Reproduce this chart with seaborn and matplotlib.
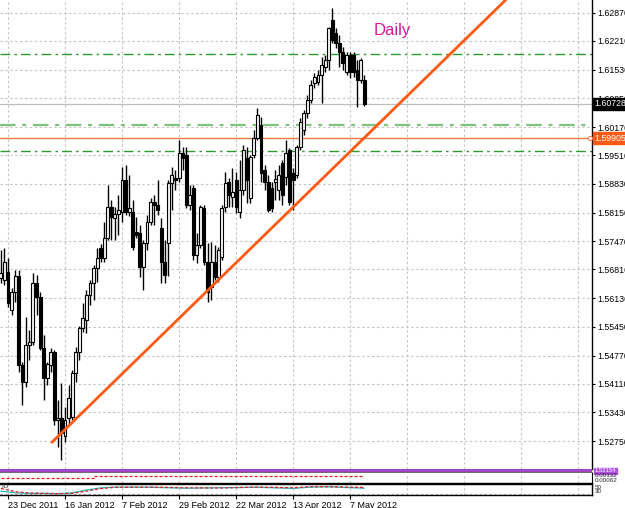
import matplotlib
matplotlib.use("Agg")
import matplotlib.pyplot as plt
import numpy as np
import pandas as pd
import seaborn as sns

sns.set_style("white")
plt.rcParams['font.family'] = ['Liberation Sans', 'DejaVu Sans']

# ---------------- data ----------------
bar_index = list(range(-2, 101))   # 23 Dec 2011 = 0, 11 May 2012 = 100
opens = [1.5661, 1.5656, 1.5675, 1.5585, 1.5627, 1.5665, 1.5455, 1.5415, 1.5502, 1.5509,
         1.5649, 1.5616, 1.5495, 1.5424, 1.5455, 1.5486, 1.5325, 1.5330, 1.5287, 1.5330,
         1.5332, 1.5436, 1.5486, 1.5542, 1.5561, 1.5620, 1.5649, 1.5684, 1.5731, 1.5708,
         1.5755, 1.5828, 1.5802, 1.5812, 1.5817, 1.5892, 1.5817, 1.5817, 1.5769, 1.5767,
         1.5687, 1.5743, 1.5793, 1.5840, 1.5833, 1.5779, 1.5698, 1.5743, 1.5885, 1.5897,
         1.5897, 1.5956, 1.5951, 1.5833, 1.5873, 1.5715, 1.5739, 1.5826, 1.5698, 1.5639,
         1.5698, 1.5663, 1.5710, 1.5828, 1.5887, 1.5852, 1.5892, 1.5817, 1.5869, 1.5944,
         1.5850, 1.5951, 1.5992, 1.6022, 1.5916, 1.5887, 1.5873, 1.5887, 1.5869, 1.5932,
         1.5899, 1.5963, 1.5909, 1.5904, 1.5970, 1.6010, 1.6051, 1.6081, 1.6122, 1.6124,
         1.6140, 1.6159, 1.6176, 1.6270, 1.6240, 1.6216, 1.6195, 1.6147, 1.6188, 1.6188,
         1.6152, 1.6129, 1.6129]
highs = [1.5727, 1.5731, 1.5708, 1.5637, 1.5679, 1.5679, 1.5462, 1.5568, 1.5538, 1.5672,
         1.5668, 1.5627, 1.5526, 1.5462, 1.5495, 1.5490, 1.5372, 1.5412, 1.5356, 1.5408,
         1.5443, 1.5497, 1.5547, 1.5601, 1.5632, 1.5656, 1.5691, 1.5731, 1.5741, 1.5793,
         1.5880, 1.5845, 1.5828, 1.5857, 1.5923, 1.5928, 1.5904, 1.5845, 1.5805, 1.5786,
         1.5750, 1.5809, 1.5850, 1.5857, 1.5892, 1.5802, 1.5750, 1.5892, 1.5923, 1.5916,
         1.5987, 1.5970, 1.5970, 1.5880, 1.5880, 1.5767, 1.5833, 1.5833, 1.5743, 1.5746,
         1.5739, 1.5734, 1.5833, 1.5911, 1.5897, 1.5921, 1.5911, 1.5940, 1.5975, 1.5970,
         1.5951, 1.6010, 1.6062, 1.6041, 1.5928, 1.5904, 1.5887, 1.5916, 1.5928, 1.5940,
         1.5987, 1.5968, 1.5921, 1.5975, 1.6039, 1.6058, 1.6093, 1.6129, 1.6145, 1.6152,
         1.6183, 1.6188, 1.6254, 1.6299, 1.6252, 1.6235, 1.6207, 1.6195, 1.6195, 1.6195,
         1.6176, 1.6181, 1.6140]
lows = [1.5649, 1.5644, 1.5592, 1.5573, 1.5604, 1.5438, 1.5360, 1.5403, 1.5467, 1.5502,
        1.5573, 1.5490, 1.5372, 1.5408, 1.5438, 1.5313, 1.5261, 1.5230, 1.5273, 1.5313,
        1.5325, 1.5415, 1.5467, 1.5533, 1.5530, 1.5597, 1.5609, 1.5651, 1.5698, 1.5698,
        1.5750, 1.5750, 1.5750, 1.5762, 1.5793, 1.5809, 1.5807, 1.5727, 1.5755, 1.5663,
        1.5632, 1.5727, 1.5786, 1.5786, 1.5809, 1.5649, 1.5649, 1.5665, 1.5821, 1.5869,
        1.5887, 1.5916, 1.5826, 1.5821, 1.5703, 1.5696, 1.5731, 1.5691, 1.5604, 1.5609,
        1.5656, 1.5651, 1.5703, 1.5817, 1.5828, 1.5828, 1.5814, 1.5802, 1.5857, 1.5838,
        1.5838, 1.5944, 1.5987, 1.5887, 1.5869, 1.5817, 1.5817, 1.5845, 1.5845, 1.5833,
        1.5880, 1.5833, 1.5821, 1.5897, 1.5963, 1.5999, 1.6039, 1.6074, 1.6110, 1.6117,
        1.6074, 1.6147, 1.6152, 1.6216, 1.6204, 1.6159, 1.6152, 1.6140, 1.6133, 1.6136,
        1.6065, 1.6122, 1.6067]
closes = [1.5672, 1.5698, 1.5601, 1.5627, 1.5665, 1.5455, 1.5415, 1.5502, 1.5509, 1.5649,
          1.5616, 1.5495, 1.5424, 1.5457, 1.5486, 1.5325, 1.5330, 1.5294, 1.5325, 1.5377,
          1.5436, 1.5486, 1.5542, 1.5566, 1.5620, 1.5649, 1.5684, 1.5708, 1.5708, 1.5755,
          1.5828, 1.5805, 1.5812, 1.5821, 1.5892, 1.5817, 1.5826, 1.5734, 1.5762, 1.5687,
          1.5743, 1.5793, 1.5840, 1.5833, 1.5821, 1.5698, 1.5668, 1.5885, 1.5904, 1.5892,
          1.5956, 1.5944, 1.5833, 1.5857, 1.5715, 1.5739, 1.5828, 1.5698, 1.5627, 1.5698,
          1.5663, 1.5727, 1.5826, 1.5885, 1.5857, 1.5864, 1.5828, 1.5869, 1.5963, 1.5892,
          1.5947, 1.5992, 1.6046, 1.5909, 1.5887, 1.5821, 1.5826, 1.5895, 1.5904, 1.5857,
          1.5956, 1.5840, 1.5892, 1.5970, 1.6029, 1.6051, 1.6081, 1.6117, 1.6136, 1.6140,
          1.6164, 1.6176, 1.6252, 1.6223, 1.6216, 1.6195, 1.6169, 1.6188, 1.6147, 1.6147,
          1.6129, 1.6176, 1.60728]

price_ticks = [1.62870, 1.62210, 1.61530, 1.60850, 1.60170, 1.59510, 1.58830, 1.58150,
               1.57470, 1.56810, 1.56130, 1.55450, 1.54770, 1.54110, 1.53430, 1.52750]
price_labels = ["%.5f" % p for p in price_ticks]
date_ticks = [0, 16, 32, 48, 64, 80, 96]
date_labels = ["23 Dec 2011", "16 Jan 2012", "7 Feb 2012", "29 Feb 2012",
               "22 Mar 2012", "13 Apr 2012", "7 May 2012"]
grid_x = [0, 16, 32, 48, 64, 80, 96, 112, 128, 144, 160]

level_green = [1.6190, 1.5961]
level_light_green = 1.6022
level_orange = 1.59905
last_price = 1.60728
trend_x = [12.3, 139.7]
trend_p = [1.5272, 1.6318]

# indicator windows
ind_b_x = [-2, 20, 24, 100]
ind_b_red = [0.55, 0.55, 0.68, 0.70]
ind_c_x = [-2, 2, 6, 10, 14, 18, 22, 26, 30, 40, 50, 60, 70, 80, 85, 90, 95, 100]
ind_c_cyan = [35, 20, 15, 15, 12, 20, 45, 65, 72, 70, 62, 66, 70, 60, 72, 74, 68, 62]
ind_c_red = [60, 30, 18, 15, 12, 15, 35, 58, 70, 72, 65, 64, 72, 66, 75, 76, 72, 68]

# ---------------- figure ----------------
W, H = 625, 508
fig = plt.figure(figsize=(6.25, 5.08), dpi=100)
fig.patch.set_facecolor("white")

def fx(px):
    return px / W

def fy(px):
    return 1 - px / H

right = fx(592)
ax = fig.add_axes([0, fy(469), right, 469 / H])
ax_a = fig.add_axes([0, fy(473), right, 4 / H])
ax_b = fig.add_axes([0, fy(483), right, 10 / H])
ax_c = fig.add_axes([0, fy(495), right, 11 / H])

xlim = (-2.25, 163.9)
grid_kw = dict(color="#c4c4c4", lw=0.8, dashes=(2.2, 2.2), zorder=0)

# main chart
ax.set_xlim(*xlim)
ax.set_ylim(1.5209, 1.63177)
for p in price_ticks:
    ax.axhline(p, **grid_kw)
for g in grid_x:
    ax.axvline(g, **grid_kw)

df = pd.DataFrame(dict(i=bar_index, o=opens, h=highs, l=lows, c=closes))
bull = df["c"] >= df["o"]
ax.vlines(df["i"], df["l"], df["h"], color="black", lw=1.0, zorder=3)
ax.bar(df["i"][bull], (df["c"] - df["o"])[bull], bottom=df["o"][bull], width=0.82,
       color="#f4f4f4", edgecolor="black", lw=0.8, zorder=4)
ax.bar(df["i"][~bull], (df["c"] - df["o"])[~bull], bottom=df["o"][~bull], width=0.82,
       color="black", edgecolor="black", lw=0.8, zorder=4)

dash_dot = (7, 3, 1.8, 3)
for lv in level_green:
    ax.axhline(lv, color="#2e9a2e", lw=1.0, dashes=dash_dot, zorder=2)
ax.axhline(level_light_green, color="#7cc47c", lw=1.6, dashes=dash_dot, zorder=2)
ax.axhline(level_orange, color="#f47a4c", lw=1.0, zorder=2)
ax.plot([xlim[1] - 0.7], [level_orange], marker="o", ms=3, mfc="white",
        mec="#f47a4c", mew=0.8, zorder=5, clip_on=False)
ax.axhline(last_price, color="#bdbdbd", lw=0.9, zorder=2)

sns.lineplot(x=trend_x, y=trend_p, ax=ax, color="#ff5a14", lw=2.0, zorder=5)

ax.text(fx(392) / right, 1 - 30 / 469, "Daily", transform=ax.transAxes,
        color="#d4189c", fontsize=12, ha="center", va="center")

ax.yaxis.tick_right()
ax.set_yticks(price_ticks)
ax.set_yticklabels(price_labels)
ax.tick_params(axis="y", which="both", right=True, length=2.5, width=0.8,
               direction="out", labelsize=6.3, pad=1.5, colors="black")
ax.set_xticks([])
for s in ["left", "top", "bottom"]:
    ax.spines[s].set_visible(False)
ax.spines["right"].set_color("black")
ax.spines["right"].set_linewidth(1.0)

box_kw = dict(xycoords=("axes fraction", "data"), fontsize=6.3, ha="left", va="center",
              annotation_clip=False, zorder=10)
ax.annotate("%.5f" % last_price, xy=(1.0, last_price), xytext=(1.5, 0),
            textcoords="offset points", color="white",
            bbox=dict(boxstyle="square,pad=0.18", fc="black", ec="black"), **box_kw)
ax.annotate("%.5f" % level_orange, xy=(1.0, level_orange), xytext=(1.5, 0),
            textcoords="offset points", color="white",
            bbox=dict(boxstyle="square,pad=0.18", fc="#ff5a14", ec="#ff5a14"), **box_kw)

# panel A: purple band
ax_a.set_xlim(*xlim)
ax_a.set_facecolor("#a244c4")
ax_a.set_xticks([]); ax_a.set_yticks([])
for s in ["left", "top", "right"]:
    ax_a.spines[s].set_visible(False)
ax_a.spines["bottom"].set_color("#6e6e6e")
ax_a.spines["bottom"].set_linewidth(1.3)
ax_a.text(1.005, 0.5, "1.52154", transform=ax_a.transAxes, fontsize=4.2, color="white",
          va="center", ha="left",
          bbox=dict(boxstyle="square,pad=0.1", fc="#b050e0", ec="#b050e0"))

# panel B: red dashed indicator
ax_b.set_xlim(*xlim)
ax_b.set_ylim(0, 1)
for g in grid_x:
    ax_b.axvline(g, **grid_kw)
sns.lineplot(x=ind_b_x, y=ind_b_red, ax=ax_b, color="#e02020", lw=0.9,
             drawstyle="steps-post")
ax_b.lines[-1].set_dashes((2.5, 1.5))
ax_b.set_xticks([]); ax_b.set_yticks([])
for s in ["left", "top"]:
    ax_b.spines[s].set_visible(False)
ax_b.spines["right"].set_color("black")
ax_b.spines["bottom"].set_color("black")
ax_b.spines["bottom"].set_linewidth(1.0)
ax_b.text(1.005, 0.75, "0.00132", transform=ax_b.transAxes, fontsize=4.5, va="center")
ax_b.text(1.005, 0.3, "0.00062", transform=ax_b.transAxes, fontsize=4.5, va="center")

# panel C: cyan / red indicator
ax_c.set_xlim(*xlim)
ax_c.set_ylim(0, 100)
for g in grid_x:
    ax_c.axvline(g, **grid_kw)
ax_c.axhline(12, color="#b0b0b0", lw=0.8, dashes=(2.2, 2.2))
sns.lineplot(x=ind_c_x, y=ind_c_cyan, ax=ax_c, color="#22b8c0", lw=0.9)
sns.lineplot(x=ind_c_x, y=ind_c_red, ax=ax_c, color="#e02020", lw=0.9)
ax_c.lines[-1].set_dashes((2.5, 1.5))
ax_c.text(0.002, 0.78, "TD", transform=ax_c.transAxes, fontsize=4.5, va="center")
ax_c.set_yticks([])
ax_c.set_xticks(date_ticks)
ax_c.set_xticklabels(date_labels, ha="left")
ax_c.tick_params(axis="x", length=3, width=0.8, direction="out", labelsize=6.5,
                 pad=1.5, colors="black", bottom=True)
ax_c.spines["left"].set_visible(False)
for s in ["top", "bottom", "right"]:
    ax_c.spines[s].set_color("black")
    ax_c.spines[s].set_linewidth(1.0)
ax_c.text(1.005, 0.7, "50", transform=ax_c.transAxes, fontsize=4.5, va="center")
ax_c.text(1.005, 0.3, "30", transform=ax_c.transAxes, fontsize=4.5, va="center")

fig.savefig("out.png", dpi=100, facecolor="white")
